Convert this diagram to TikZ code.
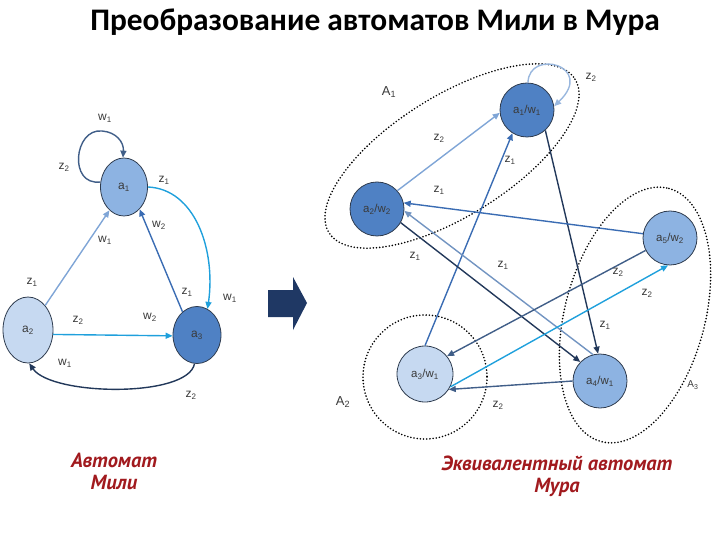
\documentclass[tikz,border=0pt]{standalone}
\usepackage{fontspec}
\setmainfont{Liberation Sans}
\newfontfamily\titlefont{Carlito}
\newfontfamily\capfont{PT Sans}
\usetikzlibrary{shapes.geometric,arrows.meta,positioning}
\definecolor{ink}{HTML}{2E3B4E}
\definecolor{labtext}{HTML}{3A3A3A}
\definecolor{fillpale}{HTML}{C6D9F1}
\definecolor{fillmid}{HTML}{8DB3E2}
\definecolor{filldeep}{HTML}{4F81C4}
\definecolor{elight}{HTML}{7FA5D6}
\definecolor{ecyan}{HTML}{1FA0DC}
\definecolor{emid}{HTML}{3A6CB3}
\definecolor{enavy}{HTML}{22385A}
\definecolor{eslate}{HTML}{405E88}
\definecolor{capred}{HTML}{A11A1E}
\definecolor{blockarrow}{HTML}{1F3864}

\begin{document}
\begin{tikzpicture}[x=1bp, y=-1bp,
    mealy/.style={ellipse, draw=ink, line width=0.8pt, inner sep=0pt,
      font=\fontsize{12}{14}\selectfont, text=labtext},
    moore/.style={circle, draw=ink, line width=0.8pt, inner sep=0pt,
      minimum size=54bp, font=\fontsize{11.5}{14}\selectfont, text=labtext},
    lab/.style={font=\fontsize{12}{14}\selectfont, text=labtext, inner sep=1pt},
    glab/.style={font=\fontsize{13}{15}\selectfont, text=labtext, inner sep=1pt},
    trans/.style={-{Triangle[length=7bp,width=6bp]}, line width=1.4pt},
    group/.style={draw=black, line width=1.8pt, dash pattern=on 0pt off 3.2pt,
      line cap=round},
    caption/.style={font=\capfont\bfseries\itshape\fontsize{20.5}{22}\selectfont,
      text=capred, align=center},
  ]
  \useasboundingbox (0,0) rectangle (720,540);

  % ---------------------------------------------------------------- title
  \node[font=\titlefont\bfseries\fontsize{31.5}{36}\selectfont] (title) at (375,22)
    {Преобразование автоматов Мили в Мура};

  % ------------------------------------------------------- Mealy machine
  \node[mealy, fill=fillmid, minimum width=47bp, minimum height=58bp] (a1) at (124,187) {a\textsubscript{1}};
  \node[mealy, fill=fillpale, minimum width=50bp, minimum height=66bp] (a2) at (28,330) {a\textsubscript{2}};
  \node[mealy, fill=filldeep, minimum width=48bp, minimum height=57bp] (a3) at (197,335) {a\textsubscript{3}};

  \draw[trans, draw=eslate] (a1.168) .. controls (68,186) and (74,128) .. (102,131)
    .. controls (116,132) and (124,142) .. (a1.92);
  \draw[trans, draw=ecyan] (a1.east) .. controls (195,189) and (216,250) .. (a3.68);
  \draw[trans, draw=emid] (a3.122) -- (a1.305);
  \draw[trans, draw=elight] (a2.55) -- (a1.238);
  \draw[trans, draw=ecyan] (a2.-10) -- (a3.182);
  \draw[trans, draw=enavy] (a3.-95) .. controls (188,398) and (52,396) .. (a2.-88);

  \node[lab] (lw1a) at (105,118) {w\textsubscript{1}};
  \node[lab] (lz2a) at (64,167) {z\textsubscript{2}};
  \node[lab] (lz1a) at (164,180) {z\textsubscript{1}};
  \node[lab] (lw2a) at (159,225) {w\textsubscript{2}};
  \node[lab] (lw1b) at (105,240) {w\textsubscript{1}};
  \node[lab] (lz1b) at (32,282) {z\textsubscript{1}};
  \node[lab] (lz1c) at (187,292) {z\textsubscript{1}};
  \node[lab] (lw1c) at (230,298) {w\textsubscript{1}};
  \node[lab] (lz2b) at (78,320) {z\textsubscript{2}};
  \node[lab] (lw2b) at (150,317) {w\textsubscript{2}};
  \node[lab] (lw1d) at (65,363) {w\textsubscript{1}};
  \node[lab] (lz2c) at (191,395) {z\textsubscript{2}};

  % ------------------------------------------------------------ big arrow
  \fill[blockarrow] (268,290) -- (293,290) -- (293,277) -- (307,303)
    -- (293,330) -- (293,317) -- (268,317) -- cycle;

  % -------------------------------------------------------- Moore machine
  \node[moore, fill=filldeep] (a1w1) at (527,110) {a\textsubscript{1}/w\textsubscript{1}};
  \node[moore, fill=filldeep] (a2w2) at (377,209) {a\textsubscript{2}/w\textsubscript{2}};
  \node[moore, fill=fillmid] (a5w2) at (670,238) {a\textsubscript{5}/w\textsubscript{2}};
  \node[moore, fill=fillpale, minimum size=56bp] (a3w1) at (425,374) {a\textsubscript{3}/w\textsubscript{1}};
  \node[moore, fill=fillmid] (a4w1) at (600,381) {a\textsubscript{4}/w\textsubscript{1}};

  % classes of equivalent states
  \draw[group, rotate around={32:(452,156)}] (452,156) ellipse [x radius=145, y radius=60];
  \draw[group] (425,377) circle [radius=62];
  \draw[group, rotate around={75:(635,315)}] (635,315) ellipse [x radius=131, y radius=70];

  \draw[trans, draw=elight!80] (a1w1.88) .. controls (529,48) and (596,66) .. (a1w1.8);
  \draw[trans, draw=elight] (a2w2.42) -- (a1w1.186);
  \draw[trans, draw=emid] (a3w1.90) -- (a1w1.238);
  \draw[trans, draw=enavy] (a1w1.312) -- (a4w1.94);
  \draw[trans, draw=emid] (a5w2.171) -- (a2w2.13);
  \draw[trans, draw=elight!90!black] (a4w1.105) -- (a2w2.-4);
  \draw[trans, draw=enavy] (a2w2.-30) -- (a4w1.136);
  \draw[trans, draw=eslate] (a5w2.207) -- (a3w1.39);
  \draw[trans, draw=ecyan] (a3w1.-27) -- (a5w2.266);
  \draw[trans, draw=eslate] (a4w1.180) -- (a3w1.-33);

  \node[glab] (gA1) at (389,92) {A\textsubscript{1}};
  \node[glab] (gA2) at (343,402) {A\textsubscript{2}};
  \node[lab, font=\fontsize{10}{12}\selectfont] (gA3) at (693,385) {A\textsubscript{3}};

  \node[lab] (mz2a) at (591,77) {z\textsubscript{2}};
  \node[lab] (mz2b) at (439,138) {z\textsubscript{2}};
  \node[lab] (mz1a) at (510,160) {z\textsubscript{1}};
  \node[lab] (mz1b) at (439,190) {z\textsubscript{1}};
  \node[lab] (mz1c) at (415,256) {z\textsubscript{1}};
  \node[lab] (mz1d) at (503,265) {z\textsubscript{1}};
  \node[lab] (mz2c) at (618,272) {z\textsubscript{2}};
  \node[lab] (mz2d) at (647,293) {z\textsubscript{2}};
  \node[lab] (mz1e) at (605,325) {z\textsubscript{1}};
  \node[lab] (mz2e) at (498,405) {z\textsubscript{2}};

  % ------------------------------------------------------------- captions
  \node[caption] (capmealy) at (114,471) {Автомат\\Мили};
  \node[caption] (capmoore) at (557,476) {Эквивалентный автомат\\Мура};
\end{tikzpicture}
\end{document}
